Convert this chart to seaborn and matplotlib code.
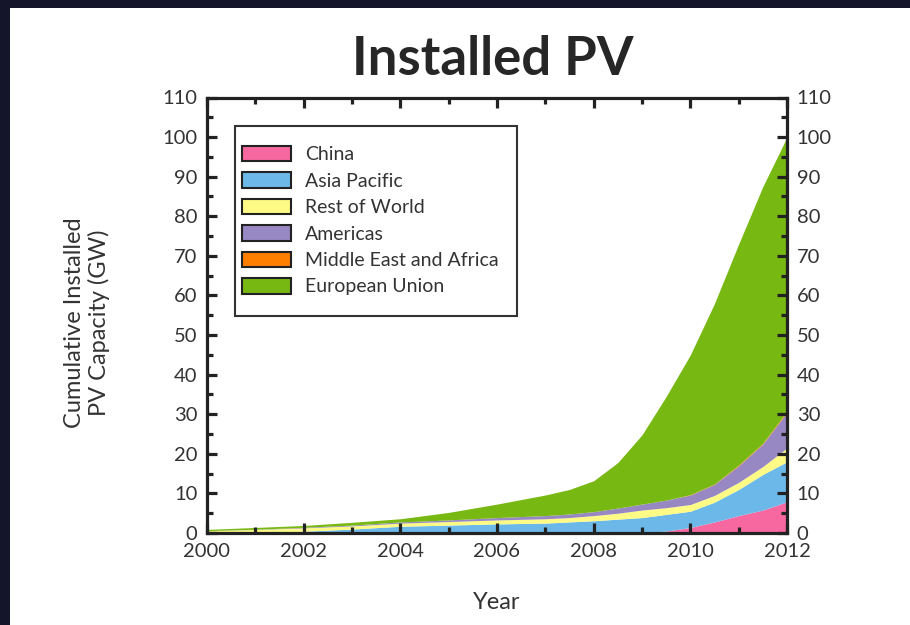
import numpy as np
import pandas as pd
import matplotlib
matplotlib.use("Agg")
import matplotlib.pyplot as plt
from matplotlib.patches import Rectangle
from matplotlib.ticker import MultipleLocator
import seaborn as sns

# data (GW per region, stacked bottom to top)
years = [2000, 2001, 2002, 2003, 2004, 2005, 2006, 2007, 2007.5, 2008, 2008.5,
         2009, 2009.5, 2010, 2010.5, 2011, 2011.5, 2012]
china = [0, 0, 0, 0, 0, 0, 0, 0, 0, 0, 0, 0, 0.5, 1.4, 2.8, 4.4, 5.8, 7.9]
asia_pacific = [0, 0.1, 0.45, 1.0, 1.7, 2.0, 2.3, 2.5, 2.8, 3.1, 3.5,
                3.9, 4.2, 4.1, 5.0, 6.6, 9.0, 10.1]
rest_of_world = [0.6, 0.8, 0.85, 0.8, 0.8, 0.9, 1.0, 1.1, 1.1, 1.3, 1.5,
                 1.9, 1.7, 1.7, 1.7, 1.8, 2.0, 3.5]
americas = [0, 0.05, 0.15, 0.2, 0.3, 0.4, 0.6, 0.8, 0.9, 1.0, 1.3,
            1.5, 1.9, 2.4, 2.8, 4.2, 5.7, 9.0]
middle_east_africa = [0, 0, 0, 0, 0, 0, 0, 0, 0, 0, 0,
                      0, 0, 0.1, 0.1, 0.2, 0.2, 0.3]
european_union = [0.3, 0.45, 0.45, 0.7, 0.8, 1.9, 3.4, 5.2, 6.2, 7.8, 11.5,
                  17.5, 26.2, 35.3, 45.6, 55.8, 64.8, 69.2]

regions = ["China", "Asia Pacific", "Rest of World", "Americas",
           "Middle East and Africa", "European Union"]
colors = ["#F768A1", "#6CB9E9", "#FDFA86", "#9787C3", "#FF7F00", "#77B812"]

df = pd.DataFrame({"Year": years, "China": china, "Asia Pacific": asia_pacific,
                   "Rest of World": rest_of_world, "Americas": americas,
                   "Middle East and Africa": middle_east_africa,
                   "European Union": european_union})

sns.set_theme(style="white")
plt.rcParams["font.family"] = ["Lato", "DejaVu Sans"]
plt.rcParams["text.color"] = "#333333"

fig = plt.figure(figsize=(9.1, 6.25), dpi=100)
fig.patch.set_facecolor("#14142a")
fig.patches.append(Rectangle((10 / 910, 0), 1, 1 - 8 / 625, transform=fig.transFigure,
                             facecolor="white", edgecolor="none", zorder=-10))
ax = fig.add_axes([207 / 910, 1 - 533 / 625, 580 / 910, 435.5 / 625])
ax.set_zorder(1)
ax.set_axisbelow(False)

ax.stackplot(df["Year"], [df[r] for r in regions], colors=colors, labels=regions,
             linewidth=0)

ax.set_xlim(2000, 2012)
ax.set_ylim(0, 110)
ax.xaxis.set_major_locator(MultipleLocator(2))
ax.xaxis.set_minor_locator(MultipleLocator(1))
ax.yaxis.set_major_locator(MultipleLocator(10))
ax.yaxis.set_minor_locator(MultipleLocator(5))
ax.tick_params(which="both", direction="in", bottom=True, left=True, top=True,
               right=True, labelright=True, width=2.3, color="#222222",
               labelsize=14.5, labelcolor="#333333", pad=7)
ax.tick_params(which="major", length=7)
ax.tick_params(which="minor", length=4.5)
for s in ax.spines.values():
    s.set_linewidth(2.3)
    s.set_color("#222222")

ax.set_xlabel("Year", fontsize=17, color="#333333")
ax.xaxis.set_label_coords(0.5, -0.135)
ax.set_ylabel("Cumulative Installed\nPV Capacity (GW)", fontsize=17,
              color="#333333", linespacing=1.15)
ax.yaxis.set_label_coords(-0.168, 0.483)
fig.text(0.542, 0.905, "Installed PV", ha="center", va="center", fontsize=38,
         fontweight="bold", color="#262626")

# legend frame drawn separately so the padding matches
ax.add_patch(Rectangle((0.0483, 0.498), 0.4862, 0.4366, transform=ax.transAxes,
                       facecolor="white", edgecolor="#333333", linewidth=1.5,
                       zorder=4))
leg = ax.legend(loc="upper left", bbox_to_anchor=(0.0603, 0.889), fontsize=14,
                frameon=False, handlelength=2.5, handleheight=0.85,
                handletextpad=0.75, labelspacing=0.46, borderpad=0,
                borderaxespad=0)
leg.set_zorder(5)
for h in leg.legend_handles:
    h.set_edgecolor("#222222")
    h.set_linewidth(1.5)

fig.savefig("out.png", dpi=100, facecolor=fig.get_facecolor())
